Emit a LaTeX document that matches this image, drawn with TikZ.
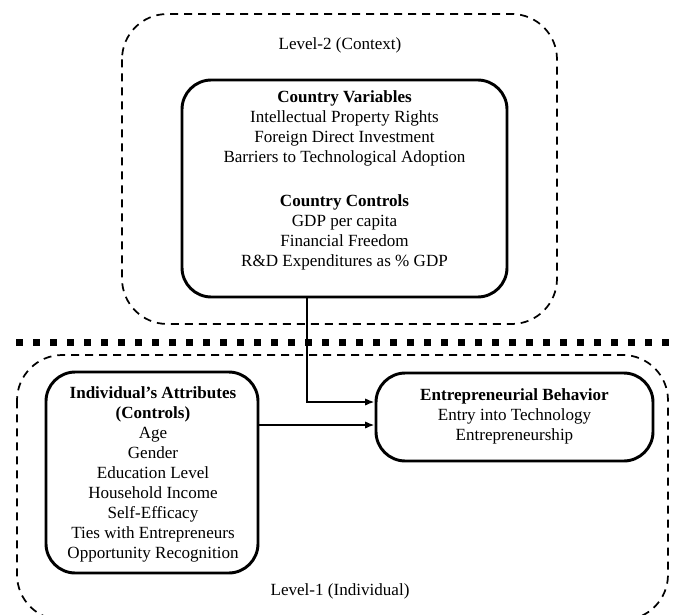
\documentclass[tikz,border=0pt]{standalone}
\usepackage{fontspec}
\setmainfont{Liberation Serif}
\usetikzlibrary{arrows.meta}
\begin{document}
\begin{tikzpicture}[x=0.75pt,y=-0.75pt,
  lvlbox/.style={draw, line width=1.3pt, dash pattern=on 6pt off 4.5pt, rounded corners=34pt},
  cbx/.style={draw, line width=2.2pt, rounded corners=22pt, inner sep=0pt},
  txt/.style={font=\fontsize{12.8}{15}\selectfont, align=center, inner sep=0pt},
  arr/.style={line width=1.5pt, -{Latex[length=7pt,width=5.5pt]}}]
\useasboundingbox (0,0) rectangle (678,614);
% level boxes
\draw[lvlbox] (122,14) rectangle (557,324);
\draw[lvlbox] (17,355) rectangle (668,620);
% thick dotted separator
\draw[line width=5.25pt, dash pattern=on 5.25pt off 7.5pt] (16,342) -- (678,342);
% labels
\node[txt] (l2) at (340,45) {Level-2 (Context)};
\node[txt] (l1) at (340,591) {Level-1 (Individual)};
% country box
\node[cbx, minimum width=325*0.75pt, minimum height=217*0.75pt] (cbox) at (344.5,188.5) {};
\node[txt] (ctext) at (344.5,180) {\textbf{Country Variables}\\
Intellectual Property Rights\\
Foreign Direct Investment\\
Barriers to Technological Adoption\\[18pt]
\textbf{Country Controls}\\
GDP per capita\\
Financial Freedom\\
R\&D Expenditures as \% GDP};
% individual box
\node[cbx, minimum width=212*0.75pt, minimum height=201*0.75pt] (ibox) at (152,472.5) {};
\node[txt] (itext) at (153,474) {\textbf{Individual's Attributes}\\
\textbf{(Controls)}\\
Age\\
Gender\\
Education Level\\
Household Income\\
Self-Efficacy\\
Ties with Entrepreneurs\\
Opportunity Recognition};
% entrepreneurial box
\node[cbx, minimum width=277*0.75pt, minimum height=88*0.75pt] (ebox) at (514.5,417) {};
\node[txt] (etext) at (514.5,416) {\textbf{Entrepreneurial Behavior}\\
Entry into Technology\\
Entrepreneurship};
% connectors
\coordinate (v) at (307,0);
\coordinate (h1) at (0,402);
\coordinate (h2) at (0,425);
\draw[arr] (cbox.south -| v) |- (ebox.west |- h1);
\draw[arr] (ibox.east |- h2) -- (ebox.west |- h2);
\end{tikzpicture}
\end{document}
